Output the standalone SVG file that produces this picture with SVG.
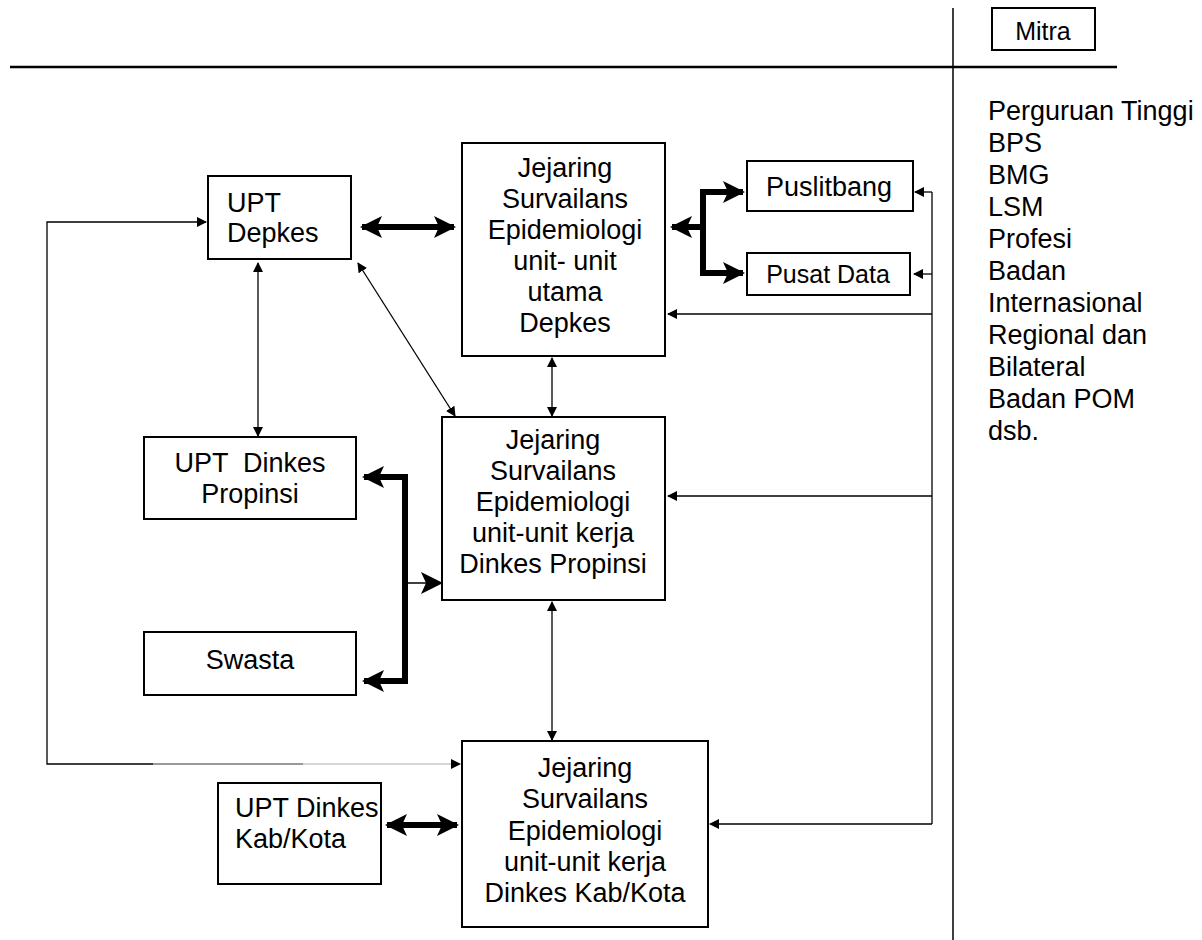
<svg xmlns="http://www.w3.org/2000/svg" width="1202" height="940" viewBox="0 0 1202 940">
<style>
  text { font-family: "Liberation Sans", Arial, sans-serif; fill: #000; }
  .t { font-size: 27px; }
  .s { font-size: 25px; }
  .c { text-anchor: middle; }
  .box { fill: #fff; stroke: #000; stroke-width: 2; }
  .thin { fill: none; stroke: #000; stroke-width: 1.3; }
  .thick { fill: none; stroke: #000; stroke-width: 6; }
</style>
<defs>
  <marker id="ah" markerWidth="10" markerHeight="10" refX="9" refY="5" orient="auto-start-reverse" markerUnits="userSpaceOnUse">
    <path d="M0,0 L10,5 L0,10 Z" fill="#000"/>
  </marker>
  <marker id="ahT" markerWidth="22" markerHeight="22" refX="20" refY="11" orient="auto-start-reverse" markerUnits="userSpaceOnUse">
    <path d="M0,0 L22,11 L0,22 L5,11 Z" fill="#000"/>
  </marker>
</defs>
<rect width="1202" height="940" fill="#fff"/>

<g id="frame">
  <line x1="10" y1="67" x2="1117" y2="67" stroke="#000" stroke-width="2.5"/>
  <line x1="953" y1="8" x2="953" y2="940" stroke="#000" stroke-width="1.5"/>
</g>

<g id="mitra">
  <rect class="box" x="992" y="8" width="103" height="42"/>
  <text class="s c" x="1043" y="40">Mitra</text>
</g>

<g id="mitra-list">
  <text class="t" x="988" y="120">Perguruan Tinggi</text>
  <text class="t" x="988" y="152">BPS</text>
  <text class="t" x="988" y="184">BMG</text>
  <text class="t" x="988" y="216">LSM</text>
  <text class="t" x="988" y="248">Profesi</text>
  <text class="t" x="988" y="280">Badan</text>
  <text class="t" x="988" y="312">Internasional</text>
  <text class="t" x="988" y="344">Regional dan</text>
  <text class="t" x="988" y="376">Bilateral</text>
  <text class="t" x="988" y="408">Badan POM</text>
  <text class="t" x="988" y="440">dsb.</text>
</g>

<g id="connectors">
  <line class="thick" x1="362" y1="227" x2="454" y2="227" marker-start="url(#ahT)" marker-end="url(#ahT)"/>
  <path class="thick" d="M703,227 H672" marker-end="url(#ahT)"/>
  <path class="thick" d="M703,192 V273"/>
  <path class="thick" d="M700,192 H743" marker-end="url(#ahT)"/>
  <path class="thick" d="M700,273 H743" marker-end="url(#ahT)"/>
  <path class="thin" d="M932,192 V824"/>
  <path class="thin" d="M932,192 H915" marker-end="url(#ah)"/>
  <path class="thin" d="M932,274 H914" marker-end="url(#ah)"/>
  <path class="thin" d="M932,314 H668" marker-end="url(#ah)"/>
  <path class="thin" d="M932,496 H668" marker-end="url(#ah)"/>
  <path class="thin" d="M932,824 H710" marker-end="url(#ah)"/>
  <line class="thin" x1="258" y1="263" x2="258" y2="436" marker-start="url(#ah)" marker-end="url(#ah)"/>
  <line class="thin" x1="358" y1="263" x2="455" y2="416" marker-start="url(#ah)" marker-end="url(#ah)"/>
  <line class="thin" x1="552" y1="358" x2="552" y2="416" marker-start="url(#ah)" marker-end="url(#ah)"/>
  <line class="thin" x1="552" y1="602" x2="552" y2="740" marker-start="url(#ah)" marker-end="url(#ah)"/>
  <path class="thick" d="M405,477 H364" marker-end="url(#ahT)"/>
  <path class="thick" d="M405,474 V684"/>
  <path class="thick" d="M405,681 H364" marker-end="url(#ahT)"/>
  <path class="thin" d="M405,583 H441" stroke-width="4" marker-end="url(#ahT)"/>
  <path class="thin" d="M153,764 H47 V222 H206" marker-end="url(#ah)"/>
  <path d="M153,764 H303" stroke="#777" stroke-width="1.6" fill="none"/>
  <path d="M303,764 H460" stroke="#c8c8c8" stroke-width="1.6" fill="none" marker-end="url(#ah)"/>
  <line class="thick" x1="387" y1="825" x2="457" y2="825" marker-start="url(#ahT)" marker-end="url(#ahT)"/>
</g>

<g id="upt-depkes">
  <rect class="box" x="208" y="176" width="143" height="83"/>
  <text class="t" x="227" y="212">UPT</text>
  <text class="t" x="227" y="242">Depkes</text>
</g>

<g id="jejaring-depkes">
  <rect class="box" x="462" y="143" width="203" height="213"/>
  <text class="t c" x="565" y="177">Jejaring</text>
  <text class="t c" x="565" y="208">Survailans</text>
  <text class="t c" x="565" y="239">Epidemiologi</text>
  <text class="t c" x="565" y="270">unit- unit</text>
  <text class="t c" x="565" y="301">utama</text>
  <text class="t c" x="565" y="332">Depkes</text>
</g>

<g id="puslitbang">
  <rect class="box" x="747" y="161" width="166" height="50"/>
  <text class="t c" x="829" y="196">Puslitbang</text>
</g>

<g id="pusat-data">
  <rect class="box" x="747" y="253" width="163" height="42"/>
  <text class="s c" x="828" y="283">Pusat Data</text>
</g>

<g id="upt-dinkes-propinsi">
  <rect class="box" x="144" y="437" width="212" height="82"/>
  <text class="t c" x="250" y="472" xml:space="preserve">UPT  Dinkes</text>
  <text class="t c" x="250" y="503">Propinsi</text>
</g>

<g id="jejaring-propinsi">
  <rect class="box" x="442" y="417" width="223" height="183"/>
  <text class="t c" x="553" y="449">Jejaring</text>
  <text class="t c" x="553" y="480">Survailans</text>
  <text class="t c" x="553" y="511">Epidemiologi</text>
  <text class="t c" x="553" y="542">unit-unit kerja</text>
  <text class="t c" x="553" y="573">Dinkes Propinsi</text>
</g>

<g id="swasta">
  <rect class="box" x="144" y="632" width="212" height="63"/>
  <text class="t c" x="250" y="669">Swasta</text>
</g>

<g id="upt-dinkes-kab">
  <rect class="box" x="218" y="783" width="163" height="101"/>
  <text class="t" x="235" y="817">UPT Dinkes</text>
  <text class="t" x="235" y="848">Kab/Kota</text>
</g>

<g id="jejaring-kab">
  <rect class="box" x="462" y="741" width="246" height="186"/>
  <text class="t c" x="585" y="777">Jejaring</text>
  <text class="t c" x="585" y="808">Survailans</text>
  <text class="t c" x="585" y="840">Epidemiologi</text>
  <text class="t c" x="585" y="871">unit-unit kerja</text>
  <text class="t c" x="585" y="902">Dinkes Kab/Kota</text>
</g>
</svg>
